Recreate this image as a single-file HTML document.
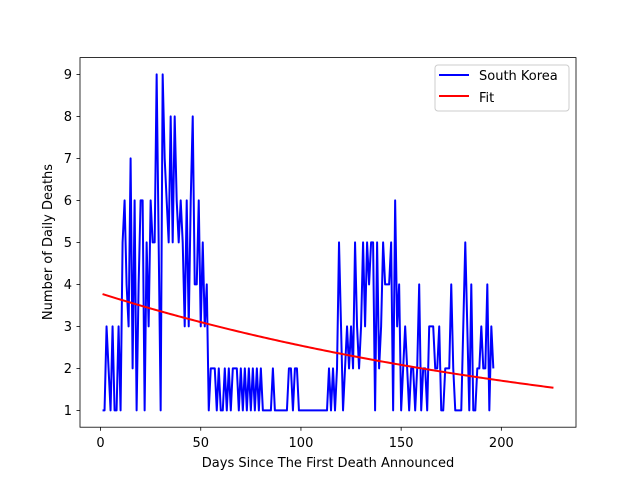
<!DOCTYPE html>
<html><head><meta charset="utf-8"><style>
body{margin:0;background:#fff;}
svg{display:block;font-family:"DejaVu Sans","Liberation Sans",sans-serif;}
</style></head><body>
<svg id="chart" width="640" height="480" xmlns="http://www.w3.org/2000/svg">
<rect x="0" y="0" width="640" height="480" fill="#fff"/>
<g id="plot"></g>
<rect x="80" y="57.6" width="496" height="369.6" fill="none" stroke="#000" stroke-width="0.8"/>
<g id="xt"></g>
<g id="yt"></g>
<text x="328" y="467" text-anchor="middle" font-size="13">Days Since The First Death Announced</text>
<text transform="translate(52,242) rotate(-90)" text-anchor="middle" font-size="13">Number of Daily Deaths</text>
<g>
<rect x="435" y="65" width="134" height="46" rx="3" fill="#fff" fill-opacity="0.8" stroke="#ccc" stroke-width="1"/>
<line x1="439" y1="75" x2="469" y2="75" stroke="#0000ff" stroke-width="2"/>
<text x="479" y="80" font-size="13">South Korea</text>
<line x1="439" y1="96" x2="469" y2="96" stroke="#ff0000" stroke-width="2"/>
<text x="479" y="102" font-size="13">Fit</text>
</g>
</svg>
<script>
const deaths = [1,1,3,2,1,3,1,1,3,1,5,6,4,3,7,2,6,1,4,6,6,1,5,3,6,5,5,9,5,1,9,7,6,5,8,5,8,6,5,6,5,3,6,3,6,8,4,4,6,3,5,3,4,1,2,2,2,1,2,1,1,2,1,2,1,2,2,2,1,2,1,2,1,2,1,2,1,2,1,2,1,1,1,1,1,2,1,1,1,1,1,1,1,2,2,1,2,2,1,1,1,1,1,1,1,1,1,1,1,1,1,1,1,2,1,2,1,2,5,3,1,2,3,2,3,2,5,3,2,3,5,3,5,4,5,5,1,5,2,3,5,4,4,4,5,1,6,3,4,1,2,3,2,1,2,2,1,2,4,1,2,2,1,3,3,3,2,2,3,1,1,2,2,2,4,2,1,1,1,1,3,5,3,1,4,1,1,2,2,3,2,2,4,1,3,2];
const fitA = 3.77;
const fitK = 0.00398;
const fitStart = 1;
const fitEnd = 226;
const xTicks = [0,50,100,150,200];
const yTicks = [1,2,3,4,5,6,7,8,9];
const X = d => 80 + (d + 10.25) * 496 / 247.5;
const Y = v => 427.2 - (v - 0.6) * 369.6 / 8.8;
const NS = "http://www.w3.org/2000/svg";
const plot = document.getElementById('plot');
let p = deaths.map((v,i)=>X(i+1).toFixed(2)+','+Y(v).toFixed(2)).join(' ');
const pl = document.createElementNS(NS,'polyline');
pl.setAttribute('points',p);pl.setAttribute('fill','none');pl.setAttribute('stroke','#0000ff');pl.setAttribute('stroke-width','2');pl.setAttribute('stroke-linejoin','round');


plot.appendChild(pl);
let fp=[];
for(let d=fitStart; d<=fitEnd; d++){fp.push(X(d).toFixed(2)+','+Y(fitA*Math.exp(-fitK*(d-1))).toFixed(2));}
const fl = document.createElementNS(NS,'polyline');
fl.setAttribute('points',fp.join(' '));fl.setAttribute('fill','none');fl.setAttribute('stroke','#ff0000');fl.setAttribute('stroke-width','2');


plot.appendChild(fl);
const xt=document.getElementById('xt');
xTicks.forEach(t=>{
  const l=document.createElementNS(NS,'line');
  l.setAttribute('x1',X(t));l.setAttribute('x2',X(t));l.setAttribute('y1',427.2);l.setAttribute('y2',430.7);l.setAttribute('stroke','#000');l.setAttribute('stroke-width','0.8');
  
  
  xt.appendChild(l);
  const tx=document.createElementNS(NS,'text');
  tx.setAttribute('x',X(t));tx.setAttribute('y',447);tx.setAttribute('text-anchor','middle');tx.setAttribute('font-size','13');tx.textContent=t;
  
  
  xt.appendChild(tx);
});
const yt=document.getElementById('yt');
yTicks.forEach(t=>{
  const l=document.createElementNS(NS,'line');
  l.setAttribute('x1',76.5);l.setAttribute('x2',80);l.setAttribute('y1',Y(t));l.setAttribute('y2',Y(t));l.setAttribute('stroke','#000');l.setAttribute('stroke-width','0.8');
  
  
  yt.appendChild(l);
  const tx=document.createElementNS(NS,'text');
  tx.setAttribute('x',72);tx.setAttribute('y',Y(t)+4.5);tx.setAttribute('text-anchor','end');tx.setAttribute('font-size','13');tx.textContent=t;
  
  
  yt.appendChild(tx);
});
</script>
</body></html>
